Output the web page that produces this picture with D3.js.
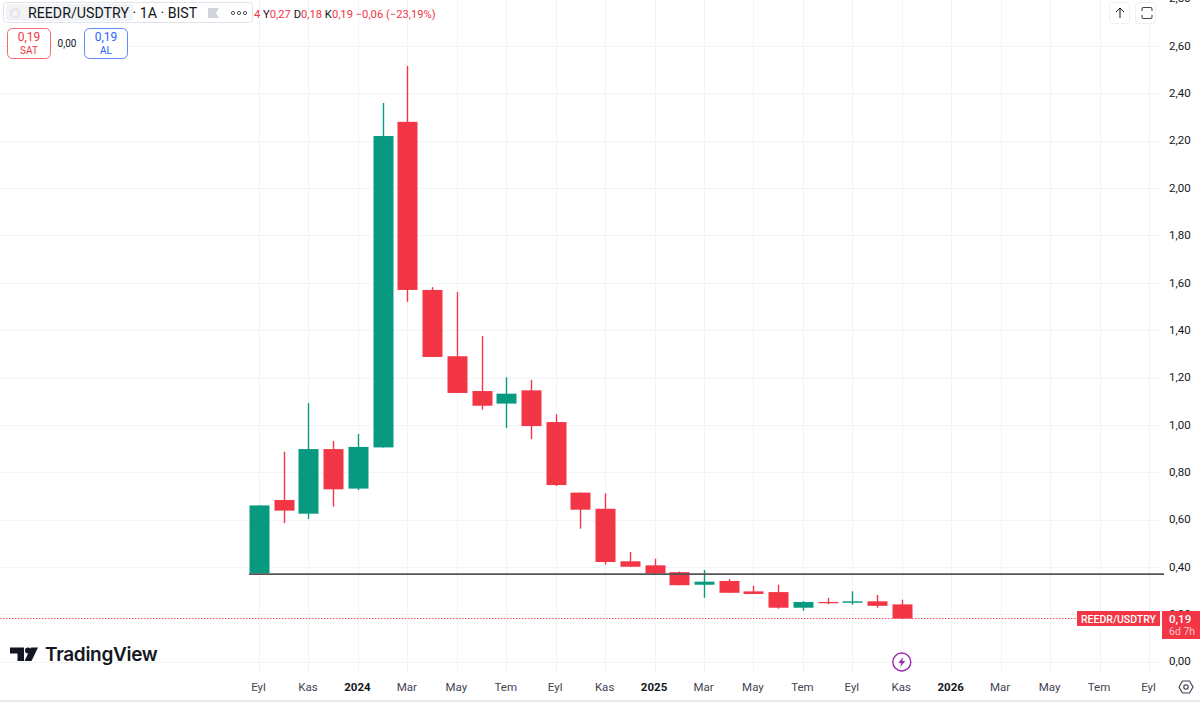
<!DOCTYPE html>
<html>
<head>
<meta charset="utf-8">
<script src="https://cdn.jsdelivr.net/npm/d3@7"></script>
<style>
  html, body { margin: 0; padding: 0; background: #fff; overflow: hidden; }
  text { font-family: Roboto, "Liberation Sans", sans-serif; }
  .domain { display: none; }
</style>
</head>
<body>
<svg id="chart" width="1200" height="702"></svg>
<script>
// monthly candles, sep 2023 -> nov 2025 (index = months since sep 2023)
const opens  = [0.373,0.683,0.625,0.898,0.731,0.905,2.28,1.57,1.29,1.143,1.09,1.146,1.012,0.714,0.646,0.424,0.407,0.378,0.325,0.341,0.297,0.294,0.228,0.252,0.249,0.255,0.242];
const highs  = [0.66,0.887,1.092,0.932,0.962,2.36,2.516,1.582,1.561,1.375,1.201,1.19,1.045,0.714,0.711,0.463,0.435,0.381,0.387,0.349,0.321,0.325,0.256,0.27,0.297,0.282,0.262];
const lows   = [0.373,0.585,0.603,0.655,0.725,0.905,1.52,1.287,1.135,1.064,0.987,0.94,0.742,0.562,0.41,0.401,0.366,0.323,0.27,0.291,0.286,0.224,0.215,0.243,0.241,0.228,0.182];
const closes = [0.66,0.638,0.898,0.728,0.907,2.22,1.57,1.287,1.135,1.081,1.132,0.995,0.746,0.642,0.421,0.401,0.372,0.323,0.338,0.291,0.286,0.228,0.252,0.247,0.255,0.236,0.182];

const timeTicks  = [0,2,4,6,8,10,12,14,16,18,20,22,24,26,28,30,32,34,36];
const timeLabels = ["Eyl","Kas","2024","Mar","May","Tem","Eyl","Kas","2025","Mar","May","Tem","Eyl","Kas","2026","Mar","May","Tem","Eyl"];
const boldLabels = ["2024","2025","2026"];
const priceTicks = [0,0.2,0.4,0.6,0.8,1.0,1.2,1.4,1.6,1.8,2.0,2.2,2.4,2.6,2.8];
const supportLevel = 0.37;
const lastPrice = 0.182;

const RED = "#F23645", GREEN = "#089981", GRID = "#f3f4f6", INK = "#131722";
const plotRight = 1161, plotBottom = 673;

const svg = d3.select("#chart");
const x = d3.scaleLinear().domain([0, 36]).range([259, 1149]);
const y = d3.scaleLinear().domain([0, 2.8]).range([661.7, -1.3]);
const comma = v => v.toFixed(2).replace(".", ",");

// grid
svg.append("g").selectAll("line").data(priceTicks).join("line")
  .attr("x1", 0).attr("x2", plotRight)
  .attr("y1", d => Math.round(y(d)) + 0.5).attr("y2", d => Math.round(y(d)) + 0.5)
  .attr("stroke", GRID);
svg.append("g").selectAll("line").data(timeTicks).join("line")
  .attr("x1", d => Math.round(x(d)) + 0.5).attr("x2", d => Math.round(x(d)) + 0.5)
  .attr("y1", 0).attr("y2", plotBottom)
  .attr("stroke", GRID);

// axes
const yAxis = svg.append("g").attr("transform", "translate(1169,-0.5)")
  .call(d3.axisRight(y).tickValues(priceTicks).tickFormat(comma).tickSize(0).tickPadding(0));
yAxis.selectAll("text").attr("font-size", 11.5).attr("fill", INK).style("font-family", "Roboto");

const xAxis = svg.append("g").attr("transform", "translate(-1,682.5)")
  .call(d3.axisBottom(x).tickValues(timeTicks).tickFormat((d, i) => timeLabels[i]).tickSize(0).tickPadding(0));
xAxis.selectAll("text")
  .attr("font-size", 11.5)
  .attr("fill", (d, i) => boldLabels.includes(timeLabels[i]) ? INK : "#3f4451")
  .attr("font-weight", (d, i) => boldLabels.includes(timeLabels[i]) ? 700 : 400)
  .style("font-family", "Roboto");

// candles
const indices = d3.range(opens.length);
const colour = i => closes[i] >= opens[i] ? GREEN : RED;
const candles = svg.append("g");
candles.selectAll("line").data(indices).join("line")
  .attr("x1", i => Math.round(x(i)) + 0.5).attr("x2", i => Math.round(x(i)) + 0.5)
  .attr("y1", i => y(highs[i])).attr("y2", i => y(lows[i]))
  .attr("stroke", colour).attr("stroke-width", 1.4);
candles.selectAll("rect").data(indices).join("rect")
  .attr("x", i => Math.round(x(i)) - 9.5).attr("width", 20)
  .attr("y", i => y(Math.max(opens[i], closes[i])))
  .attr("height", i => Math.max(1.2, Math.abs(y(opens[i]) - y(closes[i]))))
  .attr("fill", colour);

// horizontal support line + last price line
svg.append("line")
  .attr("x1", x(0) - 10).attr("x2", 1164)
  .attr("y1", y(supportLevel)).attr("y2", y(supportLevel))
  .attr("stroke", "#555555").attr("stroke-width", 1.8);
svg.append("line")
  .attr("x1", 0).attr("x2", 1077)
  .attr("y1", Math.floor(y(lastPrice)) + 0.5).attr("y2", Math.floor(y(lastPrice)) + 0.5)
  .attr("stroke", "#f7525f").attr("stroke-width", 1).attr("stroke-dasharray", "1.5 1.5");

// price tags
const tags = svg.append("g");
tags.append("rect").attr("x", 1077).attr("y", 611).attr("width", 83).attr("height", 15).attr("fill", RED);
tags.append("text").attr("x", 1118.5).attr("y", 622.5).attr("text-anchor", "middle")
  .attr("fill", "#fff").attr("font-size", 10.5).attr("font-weight", 500).text("REEDR/USDTRY");
tags.append("rect").attr("x", 1162).attr("y", 611).attr("width", 38).attr("height", 28).attr("fill", RED);
tags.append("text").attr("x", 1169).attr("y", 622.5).attr("fill", "#fff")
  .attr("font-size", 11.5).attr("font-weight", 500).text(comma(0.19));
tags.append("text").attr("x", 1169).attr("y", 635).attr("fill", "#fbc4c9")
  .attr("font-size", 10.5).text("6d 7h");

// header
const head = svg.append("g");
head.append("rect").attr("x", 3.5).attr("y", 2.5).attr("width", 249).attr("height", 20).attr("rx", 3)
  .attr("fill", "#fff").attr("stroke", "#e0e3eb");
head.append("rect").attr("x", 6).attr("y", 4).attr("width", 127).attr("height", 17).attr("rx", 3).attr("fill", "#f2f3f5");
head.append("circle").attr("cx", 15).attr("cy", 13).attr("r", 5.5).attr("fill", "#e6e7ea");
head.append("text").attr("x", 15).attr("y", 16).attr("text-anchor", "middle")
  .attr("font-size", 7).attr("font-weight", 700).attr("fill", "#fff").text("R");
head.append("text").attr("x", 28).attr("y", 18).attr("font-size", 14.2).attr("fill", INK)
  .text("REEDR/USDTRY · 1A · BIST");
head.append("path").attr("d", "M208 8h11l-3 5 3 5h-11z").attr("fill", "#d1d4dc");
head.selectAll("circle.dot").data([233, 239, 245]).join("circle").attr("class", "dot")
  .attr("cx", d => d).attr("cy", 13).attr("r", 1.6)
  .attr("fill", "none").attr("stroke", "#50535e");

// OHLC readout, partly hidden behind the header box
const readout = head.append("text").attr("x", 254).attr("y", 18).attr("font-size", 11.2).attr("fill", RED);
readout.append("tspan").text("4 ");
[["Y", "0,27"], ["D", "0,18"], ["K", "0,19"]].forEach(p => {
  readout.append("tspan").attr("fill", INK).text(p[0]);
  readout.append("tspan").text(p[1] + " ");
});
readout.append("tspan").text("−0,06 (−23,19%)");

// buy / sell buttons
const btn = svg.append("g");
[[7.5, "SAT", RED], [84.5, "AL", "#2962FF"]].forEach(b => {
  btn.append("rect").attr("x", b[0]).attr("y", 28.5).attr("width", 43).attr("height", 30).attr("rx", 5)
    .attr("fill", "#fff").attr("stroke", b[2]).attr("stroke-opacity", 0.75);
  btn.append("text").attr("x", b[0] + 21.5).attr("y", 41).attr("text-anchor", "middle")
    .attr("font-size", 12).attr("fill", b[2]).text("0,19");
  btn.append("text").attr("x", b[0] + 21.5).attr("y", 54).attr("text-anchor", "middle")
    .attr("font-size", 10).attr("fill", b[2]).text(b[1]);
});
btn.append("text").attr("x", 67).attr("y", 47).attr("text-anchor", "middle")
  .attr("font-size", 10).attr("fill", INK).text("0,00");

// top right buttons
const ctl = svg.append("g");
[1110, 1136].forEach(bx => ctl.append("rect").attr("x", bx - 0.5).attr("y", 2.5).attr("width", 20).attr("height", 21).attr("rx", 3)
  .attr("fill", "#fff").attr("stroke", "#eef0f3"));
ctl.append("path").attr("d", "M1120 18V8M1116 12l4-4 4 4").attr("fill", "none").attr("stroke", INK);
ctl.append("path").attr("d", "M1142 11V9q0-1.500 1.500-1.500h7q1.500 0 1.500 1.500v2M1142 15v2q0 1.500 1.500 1.500h7q1.500 0 1.500-1.500v-2")
  .attr("fill", "none").attr("stroke", "#3f4451").attr("stroke-width", 1.1);

// tradingview mark
const logo = svg.append("g").attr("fill", INK);
logo.append("path").attr("d", "M10 647.500h14v13.500h-6.500v-7.500h-7.500z");
logo.append("circle").attr("cx", 28).attr("cy", 650.500).attr("r", 3);
logo.append("path").attr("d", "M31 647.500h7l-6.500 13.500h-7z");
logo.append("text").attr("x", 45).attr("y", 661).style("font-family", "Inter")
  .attr("font-size", 19).attr("font-weight", 600).attr("letter-spacing", -0.3).text("TradingView");

// event marker under nov 2025
const ev = svg.append("g").attr("transform", `translate(${x(26)},662)`);
ev.append("circle").attr("r", 9).attr("fill", "#fff").attr("stroke", "#9c27b0").attr("stroke-width", 1.4);
ev.append("path").attr("d", "M1.500-5L-3.500 1H-.5L-1.500 5L3.500-1H.5z").attr("fill", "#9c27b0");

// settings hexagon + bottom strip
const gear = svg.append("g").attr("transform", "translate(1186,687)").attr("fill", "none").attr("stroke", "#3f4451").attr("stroke-width", 1.2);
gear.append("path").attr("d", "M-7 0L-3.500-6H3.500L7 0L3.500 6H-3.500z");
gear.append("circle").attr("r", 2.2);
svg.append("rect").attr("x", 0).attr("y", 700).attr("width", 1200).attr("height", 2).attr("fill", "#e8e9ec");
</script>
</body>
</html>
